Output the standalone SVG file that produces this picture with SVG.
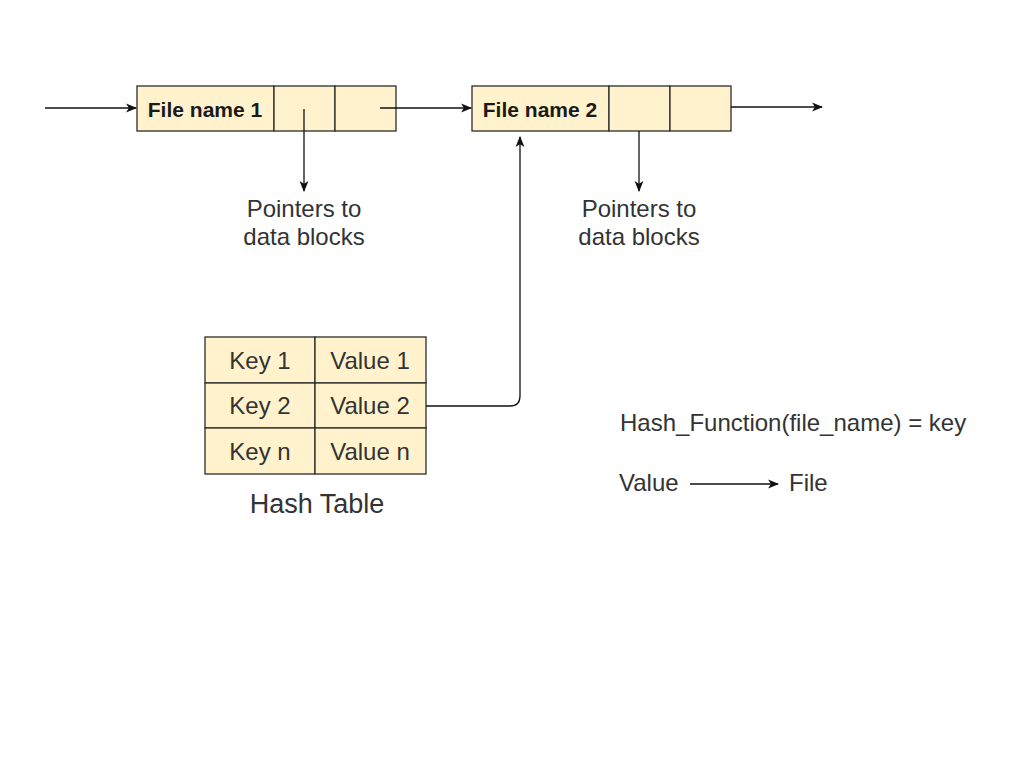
<svg xmlns="http://www.w3.org/2000/svg" width="1024" height="768" viewBox="0 0 1024 768">
<style>
.cell{fill:#fff2cc;stroke:#2b2b2b;stroke-width:1.3}
.t{font-family:"Liberation Sans",Arial,sans-serif;fill:#333;text-anchor:middle}
.s{text-anchor:start}
.b{font-weight:bold;font-size:21px;fill:#1a1a1a}
.n{font-size:24px}
.c{fill:none;stroke:#111;stroke-width:1.3}
</style>
<defs>
<marker id="ah" viewBox="0 0 10 10" refX="9" refY="5" markerWidth="11" markerHeight="11" markerUnits="userSpaceOnUse" orient="auto">
<path d="M0,1 L10,5 L0,9 L2.5,5 Z" fill="#111"/>
</marker>
</defs>
<rect width="1024" height="768" fill="#fff"/>
<g id="node1">
<rect class="cell" x="137" y="86" width="137" height="45"/>
<rect class="cell" x="274" y="86" width="61" height="45"/>
<rect class="cell" x="335" y="86" width="61" height="45"/>
<text class="t b" x="205" y="117">File name 1</text>
</g>
<g id="node2">
<rect class="cell" x="472" y="86" width="137" height="45"/>
<rect class="cell" x="609" y="86" width="61" height="45"/>
<rect class="cell" x="670" y="86" width="61" height="45"/>
<text class="t b" x="540" y="117">File name 2</text>
</g>
<g id="label1">
<text class="t n" x="304" y="217">Pointers to</text>
<text class="t n" x="304" y="245">data blocks</text>
</g>
<g id="label2">
<text class="t n" x="639" y="217">Pointers to</text>
<text class="t n" x="639" y="245">data blocks</text>
</g>
<g id="hashtable">
<rect class="cell" x="205" y="337" width="110" height="46"/>
<rect class="cell" x="315" y="337" width="111" height="46"/>
<rect class="cell" x="205" y="383" width="110" height="45"/>
<rect class="cell" x="315" y="383" width="111" height="45"/>
<rect class="cell" x="205" y="428" width="110" height="46"/>
<rect class="cell" x="315" y="428" width="111" height="46"/>
<text class="t n" x="260" y="369">Key 1</text>
<text class="t n" x="370" y="369">Value 1</text>
<text class="t n" x="260" y="414">Key 2</text>
<text class="t n" x="370" y="414">Value 2</text>
<text class="t n" x="260" y="460">Key n</text>
<text class="t n" x="370" y="460">Value n</text>
<text class="t" x="317" y="513" font-size="27" fill="#111">Hash Table</text>
</g>
<g id="legend">
<text class="t n s" x="620" y="431">Hash_Function(file_name) = key</text>
<text class="t n s" x="619" y="491">Value</text>
<text class="t n s" x="789" y="491">File</text>
</g>
<g id="connectors">
<line class="c" x1="45" y1="108" x2="136" y2="108" marker-end="url(#ah)"/>
<line class="c" x1="380" y1="108" x2="471" y2="108" marker-end="url(#ah)"/>
<line class="c" x1="731" y1="107" x2="822" y2="107" marker-end="url(#ah)"/>
<line class="c" x1="304" y1="109" x2="304" y2="191" marker-end="url(#ah)"/>
<line class="c" x1="639" y1="131" x2="639" y2="191" marker-end="url(#ah)"/>
<path class="c" d="M426,406 L510,406 Q520,406 520,396 L520,137" marker-end="url(#ah)"/>
<line class="c" x1="690" y1="484" x2="778" y2="484" marker-end="url(#ah)"/>
</g>
</svg>
